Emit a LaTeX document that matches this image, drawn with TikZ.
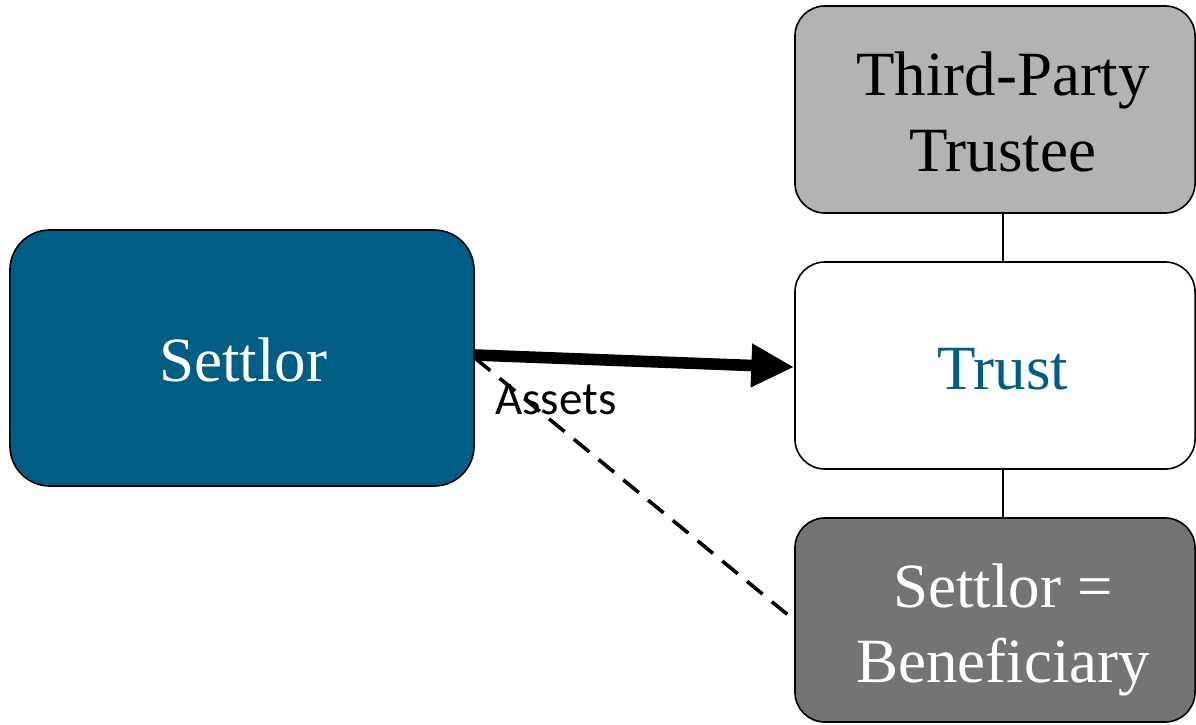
\documentclass[tikz,border=0pt]{standalone}
\usepackage{fontspec}
\setmainfont{Liberation Serif}
\newfontfamily\labelfont{Carlito}
\usetikzlibrary{arrows.meta,calc}
\definecolor{settlorblue}{RGB}{0,94,132}
\definecolor{trusteegrey}{RGB}{178,180,179}
\definecolor{benefgrey}{RGB}{115,116,118}
\tikzset{
  box/.style={draw=black, line width=0.04cm, rounded corners=0.75cm,
    minimum width=10cm, minimum height=5.175cm, inner sep=0pt},
  bigtext/.style={font=\fontsize{44.8}{53.5}\selectfont, align=center, inner sep=0pt},
  link/.style={draw=black, line width=0.04cm},
}
\begin{document}
\begin{tikzpicture}[x=0.025cm, y=-0.025cm]
  \useasboundingbox (0,0) rectangle (1196,724);

  % parties
  \node[box, rounded corners=1cm, fill=settlorblue, minimum width=11.6cm, minimum height=6.4cm]
    (settlor) at (242,358) {};
  \node[bigtext, text=white] (settlortext) at (243,360) {Settlor};

  \node[box, fill=trusteegrey] (trustee) at (995,109.5) {};
  \node[bigtext] (trusteetext) at (1003,112) {Third-Party\\Trustee};

  \node[box, fill=white] (trust) at (995,365.5) {};
  \node[bigtext, text=settlorblue] (trusttext) at (1003,369) {Trust};

  \node[box, fill=benefgrey, minimum height=5.1cm] (benef) at (995,620) {};
  \node[bigtext, text=white] (beneftext) at (1003,630) {Settlor =\\Beneficiary};

  % links between trust and the parties around it
  \draw[link] (trustee.south -| trusteetext) -- (trust.north -| trusteetext);
  \draw[link] (trust.south -| trusttext) -- (benef.north -| trusttext);

  % transfer of assets
  \node[font=\labelfont\fontsize{33.4}{40}\selectfont, inner sep=0pt] (assets) at (556,400) {Assets};
  \draw[line width=0.29cm, -{Triangle[length=1.07cm, width=1.02cm]}]
    ([yshift=0.075cm]settlor.east) -- ([yshift=-0.04cm]trust.west);

  % settlor benefits from the trust
  \draw[black, line width=0.09cm, dash pattern=on 0.5cm off 0.3cm]
    (settlor.east) -- (benef.west);
\end{tikzpicture}
\end{document}
